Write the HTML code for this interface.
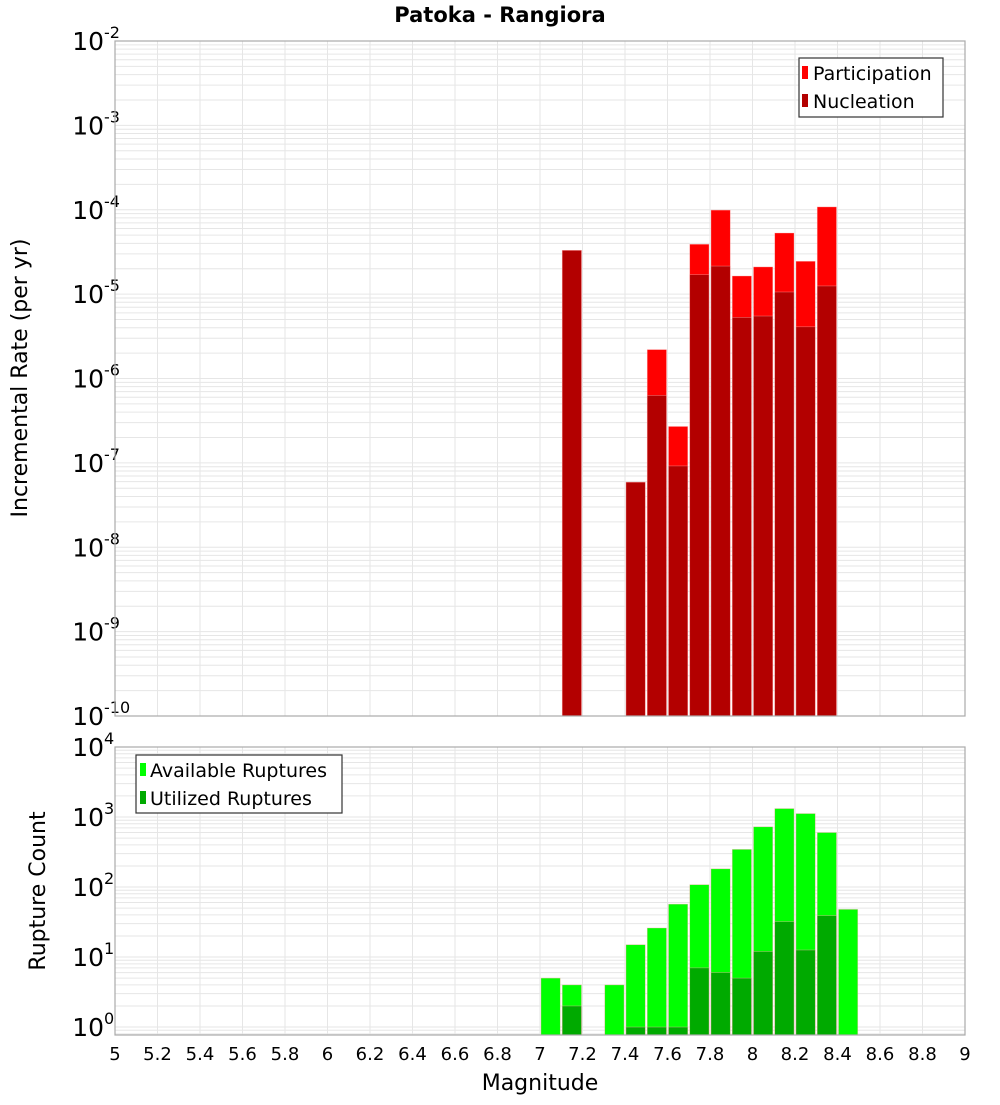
<!DOCTYPE html>
<html><head><meta charset="utf-8"><style>
body{margin:0;background:#fff;}
svg text{font-family:"DejaVu Sans","Liberation Sans",sans-serif;fill:#000;}
</style></head><body>
<svg id="chart" width="1000" height="1100" xmlns="http://www.w3.org/2000/svg">
<text x="500" y="22" text-anchor="middle" font-size="21" font-weight="bold">Patoka - Rangiora</text>
<g id="top"></g><g id="bot"></g>
<text transform="translate(27,378) rotate(-90)" text-anchor="middle" font-size="22">Incremental Rate (per yr)</text>
<text transform="translate(45,891) rotate(-90)" text-anchor="middle" font-size="22">Rupture Count</text>
<text x="540" y="1090" text-anchor="middle" font-size="22">Magnitude</text>
<g>
<rect x="799" y="58" width="144" height="59" fill="#fff" stroke="#333" stroke-width="1.2"/>
<rect x="802" y="66" width="6" height="13" fill="#ff0000"/>
<text x="813" y="80" font-size="19">Participation</text>
<rect x="802" y="94" width="6" height="13" fill="#b30000"/>
<text x="813" y="108" font-size="19">Nucleation</text>
</g>
<g>
<rect x="136" y="755" width="206" height="58" fill="#fff" stroke="#333" stroke-width="1.2"/>
<rect x="140" y="763" width="6" height="13" fill="#00ff00"/>
<text x="150" y="777" font-size="19">Available Ruptures</text>
<rect x="140" y="791" width="6" height="13" fill="#00aa00"/>
<text x="150" y="805" font-size="19">Utilized Ruptures</text>
</g>
</svg>
<script>
const xTicks=["5","5.2","5.4","5.6","5.8","6","6.2","6.4","6.6","6.8","7","7.2","7.4","7.6","7.8","8","8.2","8.4","8.6","8.8","9"];
const rateMags=[7.1,7.4,7.5,7.6,7.7,7.8,7.9,8.0,8.1,8.2,8.3];
const participation=[3.3e-5,5.9e-8,2.2e-6,2.7e-7,3.9e-5,9.9e-5,1.64e-5,2.1e-5,5.3e-5,2.45e-5,1.08e-4];
const nucleation=[3.3e-5,5.9e-8,6.3e-7,9.2e-8,1.7e-5,2.15e-5,5.3e-6,5.5e-6,1.06e-5,4.1e-6,1.25e-5];
const countMags=[7.0,7.1,7.3,7.4,7.5,7.6,7.7,7.8,7.9,8.0,8.1,8.2,8.3,8.4];
const available=[5,4,4,15,26,57,108,182,345,725,1320,1120,600,48];
const utilized=[0,2,0,1,1,1,7,6,5,12,32,12.6,39,0];
const topExp=[-10,-9,-8,-7,-6,-5,-4,-3,-2];
const botExp=[0,1,2,3,4];
const NS="http://www.w3.org/2000/svg";
const L=115,R=965;
const x=m=>L+(m-5)/4*(R-L);
const T={top:41,bot:716,lo:-10,hi:-2};
const B={top:747,bot:1035,lo:Math.log10(0.77),hi:4};
const yf=(P,v)=>P.bot-(Math.log10(v)-P.lo)/(P.hi-P.lo)*(P.bot-P.top);
function el(par,tag,a){const e=document.createElementNS(NS,tag);for(const k in a)e.setAttribute(k,a[k]);par.appendChild(e);return e;}
function panel(g,P,exps,name){
  el(g,'rect',{x:L,y:P.top,width:R-L,height:P.bot-P.top,fill:'#fff'});
  for(let e=Math.floor(P.lo);e<=P.hi;e++)for(let k=1;k<10;k++){
    const v=k*Math.pow(10,e),l=Math.log10(v);if(l<P.lo||l>P.hi)continue;
    const gl=el(g,'line',{x1:L,x2:R,y1:yf(P,v),y2:yf(P,v),stroke:'#e6e6e6','stroke-width':1});
    
    
  }
  xTicks.forEach(t=>{const gl=el(g,'line',{x1:x(+t),x2:x(+t),y1:P.top,y2:P.bot,stroke:'#e6e6e6','stroke-width':1});
    
    });
  exps.forEach(e=>{const y=yf(P,Math.pow(10,e));
    const t=el(g,'text',{x:104,y:y+9,'text-anchor':'end','font-size':25});
    
    
    t.textContent='10';
    const s=el(g,'text',{x:104,y:y-3,'font-size':16});
    
    
    s.textContent=String(e);});
}
function bars(g,mags,vals,P,fill,name){
  mags.forEach((m,i)=>{if(!(vals[i]>0))return;const y=yf(P,vals[i]);
    const r=el(g,'rect',{x:x(m)+1,y:y,width:x(m+0.1)-x(m)-2,height:P.bot-y,fill:fill,stroke:'#ffb0b0','stroke-width':0.6,'stroke-opacity':0.6});
    
    });
}
const gt=document.getElementById('top'),gb=document.getElementById('bot');
panel(gt,T,topExp,'top');panel(gb,B,botExp,'bottom');
bars(gt,rateMags,participation,T,'#ff0000','participation');
bars(gt,rateMags,nucleation,T,'#b30000','nucleation');
bars(gb,countMags,available,B,'#00ff00','available');
bars(gb,countMags,utilized,B,'#00aa00','utilized');
[[gt,T],[gb,B]].forEach(([g,P])=>el(g,'rect',{x:L,y:P.top,width:R-L,height:P.bot-P.top,fill:'none',stroke:'#aaa','stroke-width':1.2}));
xTicks.forEach(t=>{const e=el(gb,'text',{x:x(+t),y:1060,'text-anchor':'middle','font-size':18});
  
  
  e.textContent=t;});
</script>
</body></html>
